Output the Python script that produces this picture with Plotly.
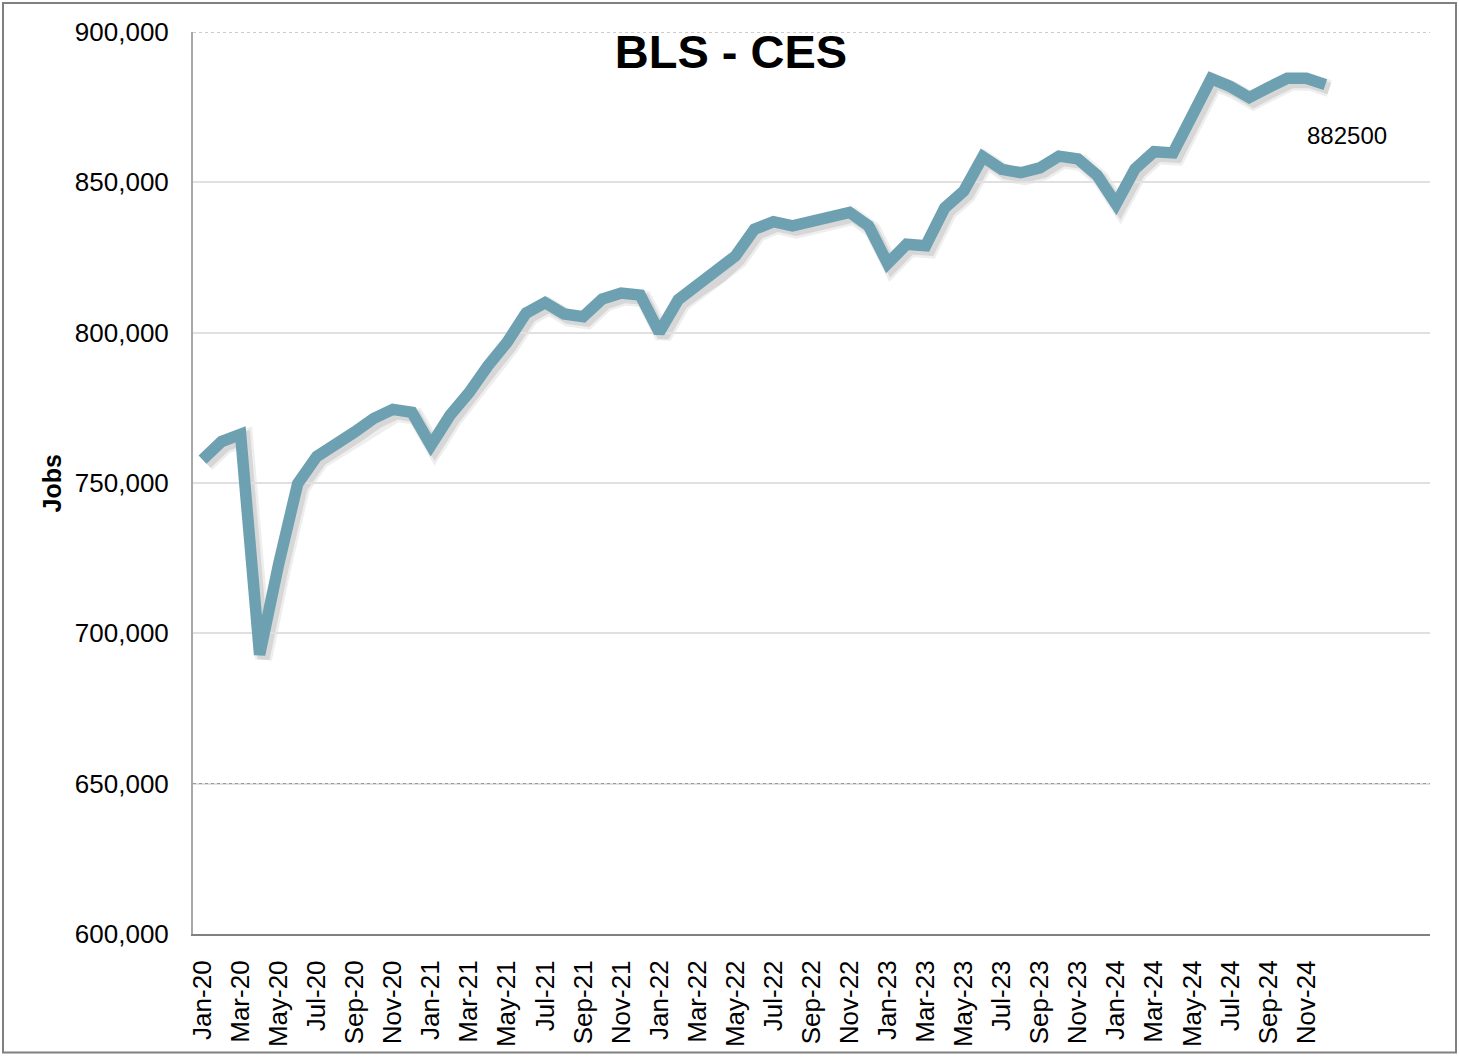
import plotly.graph_objects as go

months = [
    "Jan-20","Feb-20","Mar-20","Apr-20","May-20","Jun-20","Jul-20","Aug-20","Sep-20","Oct-20","Nov-20","Dec-20",
    "Jan-21","Feb-21","Mar-21","Apr-21","May-21","Jun-21","Jul-21","Aug-21","Sep-21","Oct-21","Nov-21","Dec-21",
    "Jan-22","Feb-22","Mar-22","Apr-22","May-22","Jun-22","Jul-22","Aug-22","Sep-22","Oct-22","Nov-22","Dec-22",
    "Jan-23","Feb-23","Mar-23","Apr-23","May-23","Jun-23","Jul-23","Aug-23","Sep-23","Oct-23","Nov-23","Dec-23",
    "Jan-24","Feb-24","Mar-24","Apr-24","May-24","Jun-24","Jul-24","Aug-24","Sep-24","Oct-24","Nov-24","Dec-24",
]
jobs = [
    757800, 763800, 766200, 692900, 723000, 749800, 758800, 762500, 767000, 771500, 774500, 773500,
    762500, 772500, 780000, 789000, 796800, 806500, 810000, 806200, 805300, 811200, 813200, 812500,
    800100, 811000, 815600, 819800, 825500, 834400, 836900, 835500, 837000, 838800, 840000, 835500,
    823000, 829400, 828900, 841500, 847100, 858500, 854300, 853200, 854800, 858700, 857800, 852400,
    842800, 854500, 860200, 859800, 871900, 884500, 881900, 878200, 881500, 884600, 884600, 882500,
]
y_ticks = [600000, 650000, 700000, 750000, 800000, 850000, 900000]
dotted_grid = [650000, 900000]
title_text = "BLS - CES"
y_title = "Jobs"
last_label = "882500"

W, H = 1459, 1059
ML, MR, MT, MB = 193, 25, 32, 118
PW, PH = W - ML - MR, H - MT - MB
SH = 4  # shadow offset in px
dx = SH / PW
dy = SH / PH

x_idx = list(range(len(months)))
tick_idx = x_idx[::2]
tick_txt = months[::2]
xr = [-0.5, 64.5]
yr = [600000, 900000]
font_fam = "Liberation Sans, Arial, sans-serif"

fig = go.Figure()

# soft shadow (drawn first, on hidden axes shifted a few px right/down)
fig.add_trace(go.Scatter(
    x=x_idx, y=jobs, mode="lines", xaxis="x", yaxis="y",
    line=dict(color="rgba(90,90,90,0.10)", width=17),
    hoverinfo="skip", showlegend=False,
))
fig.add_trace(go.Scatter(
    x=x_idx, y=jobs, mode="lines", xaxis="x", yaxis="y",
    line=dict(color="rgba(90,90,90,0.15)", width=12),
    hoverinfo="skip", showlegend=False,
))
# invisible carrier so the dotted grid axis gets drawn
fig.add_trace(go.Scatter(
    x=x_idx, y=jobs, mode="lines", xaxis="x2", yaxis="y3",
    line=dict(color="rgba(0,0,0,0)", width=0),
    hoverinfo="skip", showlegend=False,
))
# main line on the visible axes
fig.add_trace(go.Scatter(
    x=x_idx, y=jobs, mode="lines", xaxis="x2", yaxis="y2",
    line=dict(color="#6DA0B0", width=11.5),
    showlegend=False, name="Jobs",
))

fig.add_annotation(
    x=x_idx[-1], y=jobs[-1], xref="x2", yref="y2", text=last_label,
    showarrow=False, xshift=22, yshift=-51,
    font=dict(family=font_fam, size=24, color="black"),
)
fig.add_annotation(
    x=(52 - ML) / PW, y=(H - MB - 485) / PH, xref="paper", yref="paper",
    text="<b>" + y_title + "</b>", textangle=-90, showarrow=False,
    xanchor="center", yanchor="middle",
    font=dict(family=font_fam, size=25, color="black"),
)

# top dotted gridline (plotly skips the gridline at the very end of the range)
fig.add_shape(
    type="line", xref="x2 domain", yref="y2",
    x0=0, x1=1, y0=dotted_grid[-1], y1=dotted_grid[-1],
    line=dict(color="#9a9a9a", width=1, dash="dot"), layer="below",
)

fig.update_layout(
    width=W, height=H,
    margin=dict(l=ML, r=MR, t=MT, b=MB, pad=0),
    paper_bgcolor="white", plot_bgcolor="rgba(0,0,0,0)",
    showlegend=False,
    font=dict(family=font_fam, color="black"),
    xaxis=dict(range=xr, domain=[dx, 1], anchor="y", visible=False,
               showgrid=False, zeroline=False),
    yaxis=dict(range=yr, domain=[0, 1 - dy], anchor="x", visible=False,
               showgrid=False, zeroline=False),
    xaxis2=dict(
        range=xr, tickmode="array", tickvals=tick_idx, ticktext=tick_txt,
        tickangle=-90, tickfont=dict(size=26, family=font_fam),
        ticks="outside", ticklen=14, tickcolor="rgba(0,0,0,0)",
        showgrid=False, zeroline=False,
        showline=True, linecolor="#808080", linewidth=2,
        domain=[0, 1 - dx], anchor="y2",
    ),
    yaxis2=dict(
        range=yr, tickmode="array", tickvals=y_ticks, tickformat=",d",
        tickfont=dict(size=26, family=font_fam),
        ticks="outside", ticklen=17, tickcolor="rgba(0,0,0,0)",
        showgrid=True, gridcolor="#e0e0e0", gridwidth=1.5,
        zeroline=False,
        showline=True, linecolor="#a8a8a8", linewidth=2,
        domain=[dy, 1], anchor="x2",
    ),
    yaxis3=dict(
        range=yr, overlaying="y2", anchor="x2", tickmode="array", tickvals=dotted_grid,
        showticklabels=False, ticks="", showgrid=True, gridcolor="#9a9a9a", gridwidth=1,
        griddash="dot", zeroline=False, showline=False,
    ),
    title=dict(
        text=title_text, x=731 / W, xref="container", xanchor="center",
        y=1 - 52 / H, yref="container", yanchor="middle",
        font=dict(size=47, family=font_fam, weight="bold", color="black"),
    ),
)

# outer border round the whole chart
fig.add_shape(
    type="rect", xref="paper", yref="paper",
    x0=(3 - ML) / PW, x1=(W - 3 - ML) / PW,
    y0=(H - MB - (H - 3)) / PH, y1=(H - MB - 3) / PH,
    line=dict(color="#808080", width=2), fillcolor="rgba(0,0,0,0)", layer="below",
)

fig.write_html(
    "out.html",
    config={"displayModeBar": False},
    post_script="document.body.style.margin='0px';",
)
